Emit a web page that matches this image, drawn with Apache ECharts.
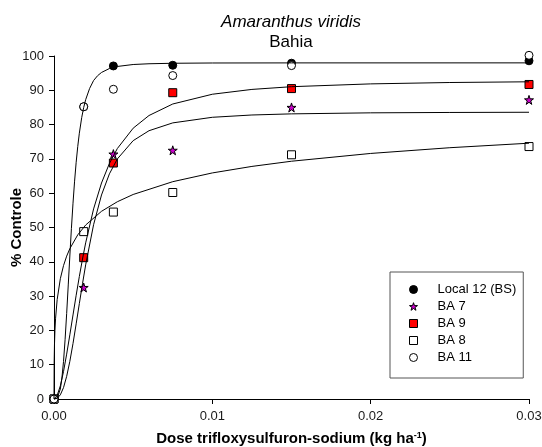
<!DOCTYPE html>
<html>
<head>
<meta charset="utf-8">
<script src="https://cdn.jsdelivr.net/npm/echarts@6/dist/echarts.min.js"></script>
<style>
  html, body { margin: 0; padding: 0; background: #fff; }
  #chart { width: 542px; height: 447px; }
</style>
</head>
<body>
<div id="chart"></div>
<script>
// Herbicide doses (kg ha-1) and observed control (%) per biotype
const doses = [0, 0.001875, 0.00375, 0.0075, 0.015, 0.03];
const local12 = [0, 85.2, 97.1, 97.3, 97.9, 98.6];
const ba7 = [0, 32.5, 71.4, 72.5, 85.0, 87.2];
const ba9 = [0, 41.2, 68.8, 89.3, 90.5, 91.7];
const ba8 = [0, 48.8, 54.5, 60.2, 71.2, 73.6];
const ba11 = [0, 85.2, 90.3, 94.3, 97.2, 100.2];

// Fitted dose-response curves
const fitDoseLocal12 = [0, 0.0002, 0.0004, 0.0005, 0.0006, 0.0007, 0.0008, 0.0009, 0.001, 0.0011, 0.0012, 0.0013, 0.0014, 0.0015, 0.0016, 0.00175, 0.001875, 0.002, 0.00225, 0.0025, 0.00275, 0.003, 0.0035, 0.004, 0.005, 0.006, 0.0075, 0.01, 0.015, 0.03];
const fitLocal12 = [0, 0.27, 2.91, 6.11, 10.92, 17.29, 24.92, 33.25, 41.69, 49.75, 57.08, 63.51, 69.01, 73.64, 77.49, 82.05, 85.0, 87.27, 90.55, 92.85, 94.24, 95.2, 96.35, 96.95, 97.52, 97.74, 97.88, 97.96, 97.99, 98.0];

const fitDoseSigmoid = [0, 0.0002, 0.0004, 0.0006, 0.0008, 0.001, 0.0012, 0.0014, 0.0016, 0.0018, 0.002, 0.0025, 0.003, 0.0035, 0.004, 0.005, 0.006, 0.0075, 0.01, 0.0125, 0.015, 0.02, 0.025, 0.03];
const fitBA9 = [0, 1.04, 3.83, 7.98, 13.08, 18.70, 24.50, 30.24, 35.71, 40.82, 45.52, 55.42, 62.97, 68.67, 73.02, 78.95, 82.65, 86.01, 88.85, 90.26, 91.05, 91.87, 92.27, 92.48];
const fitBA7 = [0, 0.21, 1.21, 3.31, 6.60, 10.97, 16.18, 21.91, 27.81, 33.61, 39.11, 50.82, 59.48, 65.64, 69.98, 75.32, 78.22, 80.50, 82.13, 82.80, 83.13, 83.43, 83.54, 83.60];

const fitDoseBA8 = [0, 0.00001, 0.00003, 0.00006, 0.0001, 0.0002, 0.0004, 0.0006, 0.0008, 0.001, 0.0015, 0.002, 0.003, 0.004, 0.005, 0.0075, 0.01, 0.0125, 0.015, 0.02, 0.025, 0.03];
const fitBA8 = [0, 10.77, 15.89, 20.03, 23.56, 28.99, 35.07, 38.88, 41.65, 43.83, 47.86, 50.72, 54.72, 57.51, 59.63, 63.36, 65.91, 67.81, 69.32, 71.59, 73.26, 74.58];

const xTickLabels = ['0.00', '0.01', '0.02', '0.03'];
const seriesNames = ['Local 12 (BS)', 'BA 7', 'BA 9', 'BA 8', 'BA 11'];

const FONT = "Arial, 'Liberation Sans', sans-serif";
const STAR = 'path://M50,0 L61.2,34.5 L97.6,34.5 L68.2,55.9 L79.4,90.5 L50,69.1 L20.6,90.5 L31.8,55.9 L2.4,34.5 L38.8,34.5 Z';

// Marker style for each biotype: symbol, size, fill
const markers = [
  { symbol: 'circle', size: 8, fill: '#000' },
  { symbol: STAR, size: 9, fill: '#cc00cc' },
  { symbol: 'rect', size: 8, fill: '#ff0000' },
  { symbol: 'rect', size: 8, fill: '#fff' },
  { symbol: 'circle', size: 8, fill: '#fff' }
];
const observed = [local12, ba7, ba9, ba8, ba11];

function pairs(xs, ys) {
  return xs.map((x, i) => [x, ys[i]]);
}

function pointSeries(i) {
  const m = markers[i];
  return {
    name: seriesNames[i],
    type: 'scatter',
    data: pairs(doses, observed[i]),
    symbol: m.symbol,
    symbolSize: m.size,
    clip: false,
    z: 3,
    itemStyle: { color: m.fill, borderColor: '#000', borderWidth: 1, opacity: 1 },
    emphasis: { disabled: true }
  };
}

function curveSeries(xs, ys) {
  return {
    type: 'line',
    data: pairs(xs, ys),
    showSymbol: false,
    symbol: 'none',
    smooth: false,
    clip: false,
    z: 4,
    silent: true,
    lineStyle: { color: '#000', width: 1 }
  };
}

const chart = echarts.init(document.getElementById('chart'), null, { renderer: 'canvas' });

chart.setOption({
  animation: false,
  backgroundColor: '#fff',
  textStyle: { fontFamily: FONT },
  title: {
    text: 'Amaranthus viridis',
    subtext: 'Bahia',
    left: 286,
    top: 9,
    textAlign: 'center',
    itemGap: 3,
    textStyle: { fontFamily: FONT, fontSize: 17, fontStyle: 'italic', fontWeight: 'normal', color: '#000' },
    subtextStyle: { fontFamily: FONT, fontSize: 17, color: '#000' }
  },
  grid: { left: 54, right: 13, top: 56, bottom: 48, containLabel: false, outerBoundsMode: 'none' },
  legend: {
    orient: 'vertical',
    left: 390,
    top: 272,
    padding: [11, 7, 14, 19],
    itemWidth: 8,
    itemHeight: 8,
    itemGap: 4,
    borderColor: '#555',
    borderWidth: 1,
    selectedMode: false,
    data: seriesNames.map((n, i) => ({
      name: n,
      icon: markers[i].symbol,
      itemStyle: { color: markers[i].fill, borderColor: '#000', borderWidth: 1 }
    })),
    textStyle: { fontFamily: FONT, fontSize: 13, color: '#000', padding: [0, 0, 0, 15] }
  },
  xAxis: {
    type: 'value',
    min: 0,
    max: 0.03,
    interval: 0.01,
    name: 'Dose trifloxysulfuron-sodium (kg ha{sup|-1})',
    nameLocation: 'middle',
    nameGap: 32,
    nameMoveOverlap: false,
    nameTextStyle: {
      fontFamily: FONT, fontSize: 15, fontWeight: 'bold', color: '#000',
      rich: {
        sup: { fontFamily: FONT, fontSize: 9, fontWeight: 'bold', color: '#000', verticalAlign: 'top', lineHeight: 10 }
      }
    },
    axisLine: { show: true, lineStyle: { color: '#000', width: 1 } },
    axisTick: { show: true, inside: false, length: 5, lineStyle: { color: '#000' } },
    splitLine: { show: false },
    axisLabel: {
      margin: 11,
      fontFamily: FONT, fontSize: 13, color: '#1a1a1a',
      formatter: (v) => xTickLabels[Math.round(v / 0.01)]
    }
  },
  yAxis: {
    type: 'value',
    min: 0,
    max: 100,
    interval: 10,
    name: '% Controle',
    nameLocation: 'middle',
    nameRotate: 90,
    nameGap: 30,
    nameMoveOverlap: false,
    nameTextStyle: { fontFamily: FONT, fontSize: 15, fontWeight: 'bold', color: '#000' },
    axisLine: { show: true, lineStyle: { color: '#000', width: 1 } },
    axisTick: { show: true, inside: false, length: 5, lineStyle: { color: '#000' } },
    splitLine: { show: false },
    axisLabel: { margin: 10, fontFamily: FONT, fontSize: 13, color: '#1a1a1a' }
  },
  series: [
    curveSeries(fitDoseLocal12, fitLocal12),
    curveSeries(fitDoseSigmoid, fitBA9),
    curveSeries(fitDoseSigmoid, fitBA7),
    curveSeries(fitDoseBA8, fitBA8),
    pointSeries(0),
    pointSeries(1),
    pointSeries(2),
    pointSeries(3),
    pointSeries(4)
  ]
});
</script>
</body>
</html>
